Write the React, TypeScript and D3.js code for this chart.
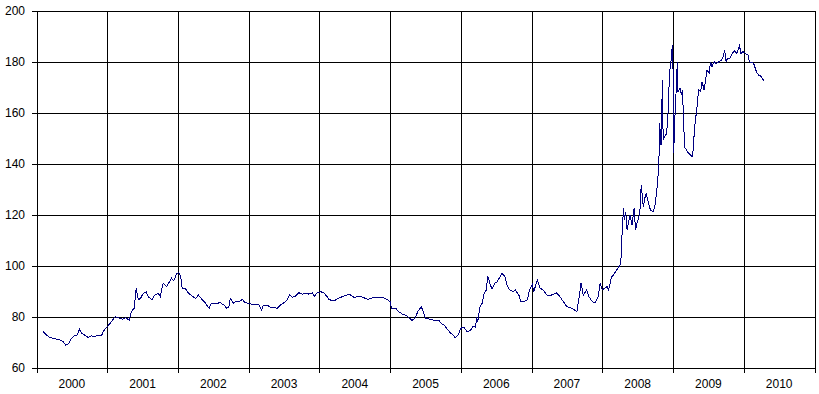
import React from "react";
import * as d3 from "d3";

// Decimal-year dates and values
const dates: number[] = [
  2000.09, 2000.14, 2000.19, 2000.24, 2000.28, 2000.33, 2000.38, 2000.41, 2000.45, 2000.48,
  2000.53, 2000.57, 2000.61, 2000.64, 2000.68, 2000.73, 2000.78, 2000.82, 2000.87, 2000.92,
  2000.94, 2000.98, 2001.01, 2001.06, 2001.11, 2001.16, 2001.22, 2001.26, 2001.31, 2001.34,
  2001.38, 2001.41, 2001.44, 2001.47, 2001.51, 2001.55, 2001.58, 2001.63, 2001.67, 2001.72,
  2001.75, 2001.79, 2001.84, 2001.88, 2001.91, 2001.94, 2001.98, 2002.01, 2002.04, 2002.06,
  2002.10, 2002.11, 2002.15, 2002.20, 2002.25, 2002.29, 2002.34, 2002.39, 2002.44, 2002.47,
  2002.51, 2002.55, 2002.60, 2002.65, 2002.69, 2002.72, 2002.74, 2002.78, 2002.81, 2002.86,
  2002.91, 2002.95, 2003.00, 2003.05, 2003.10, 2003.14, 2003.18, 2003.21, 2003.26, 2003.31,
  2003.36, 2003.40, 2003.45, 2003.50, 2003.54, 2003.58, 2003.62, 2003.66, 2003.71, 2003.76,
  2003.80, 2003.85, 2003.90, 2003.93, 2003.97, 2004.02, 2004.06, 2004.11, 2004.13, 2004.20,
  2004.30, 2004.42, 2004.49, 2004.58, 2004.68, 2004.77, 2004.89, 2004.96, 2005.00, 2005.02,
  2005.08, 2005.12, 2005.17, 2005.24, 2005.31, 2005.36, 2005.39, 2005.44, 2005.47, 2005.50,
  2005.57, 2005.64, 2005.69, 2005.72, 2005.76, 2005.81, 2005.85, 2005.89, 2005.92, 2005.96,
  2006.00, 2006.04, 2006.09, 2006.14, 2006.17, 2006.21, 2006.22, 2006.24, 2006.27, 2006.30,
  2006.33, 2006.36, 2006.38, 2006.41, 2006.44, 2006.48, 2006.51, 2006.55, 2006.58, 2006.62,
  2006.65, 2006.69, 2006.74, 2006.77, 2006.82, 2006.85, 2006.89, 2006.94, 2006.97, 2007.01,
  2007.03, 2007.08, 2007.12, 2007.16, 2007.22, 2007.28, 2007.35, 2007.40, 2007.46, 2007.50,
  2007.57, 2007.64, 2007.67, 2007.70, 2007.73, 2007.78, 2007.81, 2007.86, 2007.90, 2007.94,
  2007.96, 2007.97, 2008.00, 2008.03, 2008.07, 2008.09, 2008.13, 2008.16, 2008.20, 2008.23,
  2008.26, 2008.27, 2008.28, 2008.30, 2008.31, 2008.33, 2008.35, 2008.39, 2008.42, 2008.45,
  2008.47, 2008.49, 2008.53, 2008.55, 2008.58, 2008.60, 2008.62, 2008.66, 2008.68, 2008.72,
  2008.75, 2008.78, 2008.80, 2008.81, 2008.83, 2008.85, 2008.86, 2008.88, 2008.91, 2008.93,
  2008.95, 2008.97, 2008.99, 2009.00, 2009.01, 2009.02, 2009.04, 2009.06, 2009.07, 2009.10,
  2009.12, 2009.13, 2009.15, 2009.16, 2009.19, 2009.22, 2009.25, 2009.27, 2009.29, 2009.30,
  2009.32, 2009.34, 2009.36, 2009.39, 2009.41, 2009.44, 2009.46, 2009.48, 2009.51, 2009.53,
  2009.55, 2009.58, 2009.61, 2009.65, 2009.68, 2009.71, 2009.73, 2009.75, 2009.77, 2009.80,
  2009.84, 2009.87, 2009.90, 2009.92, 2009.94, 2009.96, 2009.99, 2010.02, 2010.06, 2010.08,
  2010.12, 2010.14, 2010.17, 2010.19, 2010.21, 2010.25, 2010.27, 2010.28,
];

const values: number[] = [
  74.3, 72.7, 71.8, 71.4, 71.1, 70.8, 70.1, 68.8, 69.2, 70.8,
  72.4, 72.7, 75.0, 73.4, 72.7, 71.8, 72.4, 72.1, 72.7, 72.4,
  74.0, 75.4, 76.3, 78.0, 79.9, 79.5, 78.9, 79.5, 78.6, 81.9,
  83.2, 91.1, 86.5, 87.1, 89.1, 89.7, 87.8, 86.5, 88.4, 89.1,
  87.8, 93.0, 91.7, 93.6, 95.0, 94.0, 96.7, 97.2, 95.6, 91.1,
  91.1, 90.7, 89.1, 88.0, 87.1, 88.4, 86.7, 85.2, 83.2, 85.2,
  85.2, 85.2, 85.4, 84.5, 83.2, 83.8, 87.1, 85.2, 85.8, 85.8,
  86.7, 85.4, 85.2, 84.8, 84.9, 84.9, 82.5, 84.5, 84.5, 83.6,
  83.5, 83.2, 84.5, 85.4, 86.5, 88.4, 87.5, 88.0, 89.3, 88.8,
  89.1, 88.8, 89.3, 88.0, 89.3, 89.7, 89.3, 87.8, 86.7, 86.1,
  87.5, 88.8, 87.5, 88.0, 86.7, 87.5, 87.5, 86.7, 85.8, 83.2,
  83.2, 81.9, 81.0, 80.2, 78.4, 79.7, 81.9, 83.8, 81.9, 79.3,
  78.9, 78.4, 78.6, 77.3, 76.7, 75.0, 73.6, 72.7, 71.7, 72.7,
  75.4, 75.8, 74.0, 74.7, 76.0, 75.8, 79.9, 78.0, 83.8, 85.2,
  89.1, 90.4, 95.9, 93.0, 90.7, 93.0, 93.6, 95.4, 96.9, 95.9,
  92.4, 90.4, 89.7, 90.4, 88.4, 85.8, 85.8, 86.5, 90.4, 92.4,
  89.7, 94.3, 91.1, 90.4, 88.4, 88.4, 89.3, 87.8, 85.4, 83.8,
  83.2, 81.9, 87.1, 93.3, 88.4, 90.4, 87.8, 85.8, 85.4, 87.8,
  91.1, 93.0, 90.4, 91.1, 91.7, 90.4, 95.6, 96.3, 98.2, 99.3,
  100.8, 105.4, 113.2, 122.4, 117.8, 121.1, 113.9, 119.8, 115.9, 122.4,
  113.9, 116.5, 120.5, 131.6, 123.0, 126.3, 128.3, 123.7, 121.8, 121.1,
  124.4, 132.2, 140.1, 155.8, 147.3, 172.7, 149.2, 150.5, 151.8, 160.3,
  175.4, 179.9, 186.5, 176.7, 144.0, 154.4, 166.2, 179.9, 168.2, 169.5,
  166.9, 168.8, 158.4, 146.6, 145.3, 144.0, 143.3, 142.7, 146.0, 153.1,
  157.7, 162.3, 168.8, 168.2, 172.1, 168.8, 172.7, 176.7, 175.4, 179.9,
  177.9, 179.9, 179.2, 179.9, 180.5, 181.9, 184.5, 179.9, 181.2, 181.2,
  183.2, 184.2, 183.2, 184.5, 186.1, 183.2, 183.9, 183.2, 182.5, 179.9,
  179.6, 179.2, 176.7, 175.4, 174.7, 174.1, 173.0, 172.5,
];

const yearLabels: string[] = [
  "2000", "2001", "2002", "2003", "2004", "2005", "2006", "2007", "2008", "2009", "2010",
];
const yTicks: number[] = [60, 80, 100, 120, 140, 160, 180, 200];

const W = 819;
const H = 394;
const left = 36.5;
const right = 814.5;
const top = 10.5;
const bottom = 367.5;

export default function App() {
  const x = d3.scaleLinear().domain([2000, 2011]).range([left, right]);
  const y = d3.scaleLinear().domain([60, 200]).range([bottom, top]);
  const boundaries = d3.range(2000, 2012);
  const points: [number, number][] = dates.map((d, i) => [d, values[i]]);
  const line = d3
    .line<[number, number]>()
    .x((d) => x(d[0]))
    .y((d) => y(d[1]));

  const font = "'Liberation Sans', Arial, sans-serif";

  return (
    <div style={{ position: "fixed", left: 0, top: 0 }}>
      <svg width={W} height={H} style={{ display: "block", background: "#fff" }}>
        <rect x={0} y={0} width={W} height={H} fill="#fff" />
        <g shapeRendering="crispEdges" stroke="#000" strokeWidth={1}>
          {yTicks.map((t) => (
            <line key={"h" + t} x1={left} x2={right} y1={Math.round(y(t)) + 0.5} y2={Math.round(y(t)) + 0.5} />
          ))}
          {boundaries.map((b) => (
            <line
              key={"v" + b}
              x1={Math.round(x(b)) + 0.5}
              x2={Math.round(x(b)) + 0.5}
              y1={top}
              y2={bottom + 5}
            />
          ))}
          {yTicks.map((t) => (
            <line key={"yt" + t} x1={left - 5} x2={left} y1={Math.round(y(t)) + 0.5} y2={Math.round(y(t)) + 0.5} />
          ))}
        </g>
        <g fontFamily={font} fontSize={12} fill="#000" textAnchor="end">
          {yTicks.map((t) => (
            <text key={"yl" + t} x={25} y={y(t) + 4.5}>
              {t}
            </text>
          ))}
        </g>
        <g fontFamily={font} fontSize={12} fill="#000" textAnchor="middle">
          {yearLabels.map((lab, i) => (
            <text key={"xl" + lab} x={x(2000 + i + 0.5)} y={388}>
              {lab}
            </text>
          ))}
        </g>
        <path
          d={line(points) || ""}
          fill="none"
          stroke="#000080"
          strokeWidth={1}
          shapeRendering="crispEdges"
        />
      </svg>
    </div>
  );
}
